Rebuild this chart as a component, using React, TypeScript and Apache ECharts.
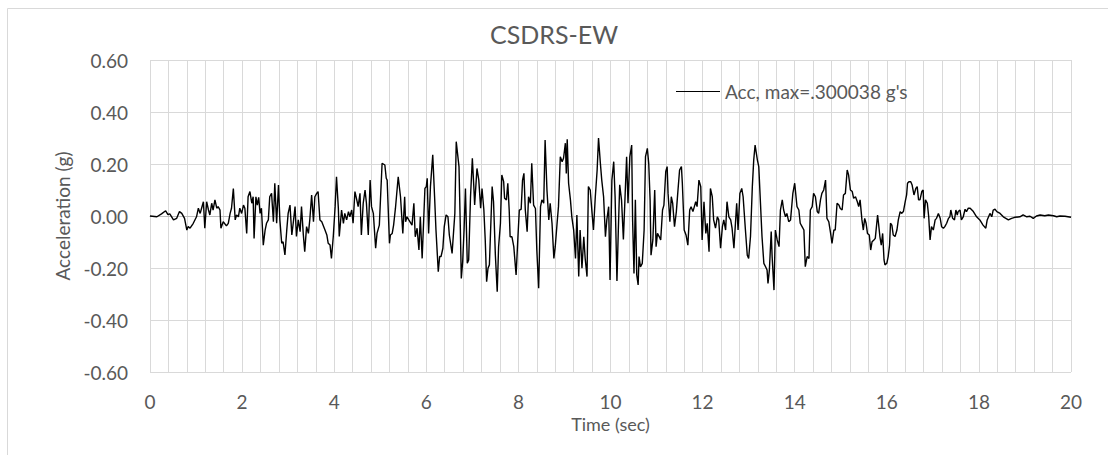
import React, { useEffect, useRef } from "react";
import * as echarts from "echarts";

const TITLE = "CSDRS-EW";
const SERIES_NAME = "Acc, max=.300038 g's";
const X_NAME = "Time (sec)";
const Y_NAME = "Acceleration (g)";

// [time (s), acceleration (g)]
const SEG_0_5: number[][] = [
  [0, 0], [0.15, -0.003], [0.25, 0.008], [0.34, 0.02], [0.39, 0.005], [0.43, 0.008],
  [0.51, -0.015], [0.58, -0.009], [0.64, 0.017], [0.69, 0.01], [0.75, -0.009], [0.8, -0.054],
  [0.83, -0.04], [0.87, -0.047], [0.94, -0.028], [1.01, -0.003], [1.05, 0.03], [1.09, 0.01],
  [1.12, 0.03], [1.16, 0.055], [1.19, -0.047], [1.23, 0.055], [1.27, 0.023], [1.3, 0.004],
  [1.34, 0.049], [1.37, 0.023], [1.41, 0.062], [1.45, 0.03], [1.48, 0.036], [1.52, 0.023],
  [1.54, -0.047], [1.59, -0.022], [1.66, -0.038], [1.7, -0.028], [1.74, 0.01], [1.77, 0.03],
  [1.81, 0.106], [1.85, -0.015], [1.88, 0.004], [1.92, -0.003], [1.95, 0.03], [1.99, 0.01],
  [2.03, 0.042], [2.06, 0.03], [2.1, -0.067], [2.13, 0.074], [2.17, 0.094], [2.21, 0.049],
  [2.24, 0.074], [2.26, -0.086], [2.3, 0.074], [2.33, 0.042], [2.36, 0.072], [2.39, 0.01],
  [2.42, 0.03], [2.46, -0.112], [2.5, -0.054], [2.53, -0.028], [2.57, -0.015], [2.6, 0.074],
  [2.64, 0.087], [2.68, -0.022], [2.71, 0.126], [2.75, -0.028], [2.79, 0.119], [2.82, -0.015],
  [2.86, -0.105], [2.89, -0.099], [2.93, -0.15], [2.97, -0.054], [3.0, 0.01], [3.04, 0.042],
  [3.08, -0.073], [3.11, -0.028], [3.15, 0.036], [3.18, -0.079], [3.22, -0.015], [3.26, -0.06],
  [3.29, 0.036], [3.33, -0.073], [3.36, -0.137], [3.4, -0.041], [3.44, -0.067], [3.47, -0.015],
  [3.51, 0.081], [3.55, -0.022], [3.58, 0.074], [3.62, 0.087], [3.65, 0.094], [3.69, -0.015],
  [3.73, -0.022], [3.8, -0.054], [3.84, -0.073], [3.87, -0.105], [3.91, -0.112], [3.94, -0.163],
  [3.98, -0.079], [4.02, 0.036], [4.05, 0.151], [4.09, 0.03], [4.11, -0.079], [4.16, 0.023],
  [4.2, -0.028], [4.23, 0.01], [4.27, -0.015], [4.31, 0.017], [4.34, -0.003], [4.38, 0.023],
  [4.41, -0.028], [4.45, 0.094], [4.49, 0.062], [4.52, 0.036], [4.56, 0.087], [4.59, -0.073],
  [4.63, 0.049], [4.67, 0.1], [4.7, 0.049], [4.74, -0.073], [4.78, 0.138], [4.81, 0.036],
  [4.85, 0.01],
];

const SEG_5_76: number[][] = [
  [4.9, -0.124], [4.93, -0.067], [4.98, -0.035], [5.04, 0.203], [5.1, 0.196], [5.13, 0.145],
  [5.15, 0.138], [5.2, -0.105], [5.22, -0.073], [5.26, -0.067], [5.29, -0.035], [5.33, 0.03],
  [5.39, 0.151], [5.44, 0.074], [5.49, -0.067], [5.53, 0.074], [5.55, -0.022], [5.58, -0.003],
  [5.62, -0.015], [5.69, -0.035], [5.73, 0.049], [5.76, -0.08], [5.8, -0.047], [5.84, -0.131],
  [5.87, -0.003], [5.91, -0.163], [5.97, 0.106], [6.0, 0.113], [6.02, 0.145], [6.05, -0.067],
  [6.09, 0.113], [6.14, 0.235], [6.18, 0.074], [6.21, -0.054], [6.26, -0.214], [6.29, -0.156],
  [6.32, -0.156], [6.36, -0.124], [6.39, -0.041], [6.43, 0.004], [6.47, -0.003], [6.5, -0.073],
  [6.56, -0.144], [6.6, -0.041], [6.62, 0.01], [6.65, 0.286], [6.71, 0.19], [6.74, -0.054],
  [6.76, -0.24], [6.79, -0.176], [6.82, -0.054], [6.85, 0.106], [6.89, -0.182], [6.92, -0.169],
  [6.96, 0.074], [7.0, 0.222], [7.03, 0.119], [7.05, 0.042], [7.1, 0.183], [7.14, 0.138],
  [7.18, 0.03], [7.21, 0.106], [7.25, 0.023], [7.28, -0.092], [7.31, -0.253], [7.34, -0.201],
  [7.37, -0.188], [7.43, 0.113], [7.46, 0.055], [7.5, -0.151], [7.54, -0.291], [7.57, -0.118],
];

const SEG_76_103: number[][] = [
  [7.61, -0.028], [7.64, 0.158], [7.68, 0.132], [7.7, 0.068], [7.74, 0.062], [7.77, 0.126],
  [7.8, 0.023], [7.82, -0.08], [7.86, -0.08], [7.9, -0.118], [7.95, -0.227], [7.99, -0.08],
  [8.02, 0.023], [8.06, 0.026], [8.09, 0.138], [8.12, 0.164], [8.15, 0.023], [8.19, -0.06],
  [8.22, 0.074], [8.26, 0.049], [8.29, 0.203], [8.33, 0.042], [8.37, 0.029], [8.4, -0.131],
  [8.44, -0.278], [8.48, 0.036], [8.51, 0.062], [8.55, 0.049], [8.58, 0.292], [8.62, 0.1],
  [8.66, -0.015], [8.69, 0.049], [8.73, -0.028], [8.77, -0.163], [8.8, -0.118], [8.84, -0.028],
  [8.87, 0.036], [8.91, 0.228], [8.95, 0.209], [8.98, 0.222], [9.02, 0.28], [9.04, 0.164],
  [9.06, 0.295], [9.09, 0.126], [9.13, 0.062], [9.16, -0.003], [9.2, -0.054], [9.24, -0.163],
  [9.27, 0.004], [9.31, -0.233], [9.34, -0.054], [9.38, -0.201], [9.42, -0.08], [9.45, -0.163],
  [9.49, -0.233], [9.52, 0.113], [9.56, 0.1], [9.6, 0.01], [9.63, -0.054], [9.67, 0.074],
  [9.71, 0.177], [9.74, 0.3], [9.78, 0.203], [9.81, 0.138], [9.85, 0.074], [9.89, -0.08],
  [9.92, -0.015], [9.96, 0.036], [9.99, -0.246], [10.03, 0.138], [10.07, 0.209], [10.1, 0.074],
  [10.14, -0.25], [10.17, -0.054], [10.2, 0.12], [10.24, 0.06], [10.28, -0.09],
];

const SEG_103_137: number[][] = [
  [10.35, 0.228], [10.38, 0.049], [10.42, 0.228], [10.46, 0.273], [10.48, -0.015], [10.51, -0.221],
  [10.54, 0.062], [10.57, -0.227], [10.6, -0.265], [10.62, -0.156], [10.65, -0.196], [10.69, -0.182],
  [10.73, -0.054], [10.76, 0.228], [10.8, 0.26], [10.83, 0.203], [10.86, 0.062], [10.88, -0.151],
  [10.92, -0.092], [10.96, 0.1], [10.99, -0.118], [11.02, -0.067], [11.06, -0.08], [11.09, -0.092],
  [11.13, 0.023], [11.16, 0.042], [11.2, 0.171], [11.23, 0.19], [11.25, 0.087], [11.29, -0.022],
  [11.32, 0.074], [11.35, 0.049], [11.39, -0.041], [11.43, 0.017], [11.46, 0.087], [11.5, 0.177],
  [11.54, 0.19], [11.56, 0.126], [11.6, -0.054], [11.64, -0.073], [11.68, -0.112], [11.72, 0.023],
  [11.75, 0.036], [11.79, 0.017], [11.83, 0.042], [11.85, 0.055], [11.88, 0.036], [11.92, 0.138],
  [11.96, 0.113], [11.99, -0.092], [12.03, 0.055], [12.07, -0.067], [12.1, -0.028], [12.14, -0.137],
  [12.17, 0.106], [12.21, 0.074], [12.24, -0.015], [12.28, -0.047], [12.32, -0.003], [12.35, -0.015],
  [12.39, -0.124], [12.43, -0.041], [12.46, -0.015], [12.5, -0.054], [12.53, 0.055], [12.57, -0.003],
  [12.61, -0.015], [12.64, -0.047], [12.68, -0.124], [12.74, 0.049], [12.77, -0.054], [12.81, 0.087],
  [12.85, 0.106], [12.88, 0.074], [12.93, -0.054], [12.97, -0.151], [13.0, -0.163], [13.04, -0.079],
  [13.08, 0.113], [13.11, 0.215], [13.14, 0.273], [13.19, 0.215], [13.22, 0.19], [13.26, 0.036],
  [13.29, -0.079], [13.33, -0.182], [13.37, -0.196], [13.4, -0.208], [13.42, -0.259], [13.45, -0.208],
  [13.49, -0.06], [13.51, -0.156], [13.55, -0.285], [13.58, -0.054], [13.62, -0.092], [13.66, -0.118],
];

const SEG_137_154: number[][] = [
  [13.69, 0.023], [13.73, 0.062], [13.76, 0.023], [13.8, -0.003], [13.83, 0.01], [13.87, -0.022],
  [13.91, -0.015], [13.96, 0.087], [14.0, 0.126], [14.05, 0.036], [14.09, 0.023], [14.12, -0.028],
  [14.16, -0.041], [14.2, -0.054], [14.23, -0.195], [14.27, -0.156], [14.31, -0.163], [14.34, 0.023],
  [14.38, 0.036], [14.41, 0.087], [14.45, 0.074], [14.49, 0.017], [14.52, 0.01], [14.56, 0.062],
  [14.59, 0.087], [14.63, 0.1], [14.67, 0.138], [14.7, -0.009], [14.74, -0.022], [14.78, -0.067],
  [14.81, -0.105], [14.85, -0.054], [14.88, -0.054], [14.92, 0.049], [14.96, 0.042], [14.99, 0.029],
  [15.03, 0.023], [15.06, 0.081], [15.1, 0.087], [15.14, 0.177], [15.17, 0.158], [15.21, 0.1],
  [15.25, 0.094], [15.28, 0.068], [15.32, 0.074], [15.36, 0.055], [15.39, 0.036],
];

const SEG_154_20: number[][] = [
  [15.42, 0.062], [15.46, -0.015], [15.49, -0.054], [15.52, -0.009], [15.55, -0.028], [15.58, -0.067],
  [15.62, -0.073], [15.65, -0.131], [15.68, -0.099], [15.72, -0.092], [15.75, -0.086], [15.8, 0.004],
  [15.82, -0.028], [15.85, -0.079], [15.88, -0.112], [15.91, -0.067], [15.94, -0.169], [15.96, -0.188],
  [16.0, -0.182], [16.03, -0.156], [16.06, -0.112], [16.08, -0.028], [16.11, -0.035], [16.14, -0.073],
  [16.18, -0.079], [16.22, -0.054], [16.25, -0.015], [16.29, 0.017], [16.32, 0.01], [16.36, 0.017],
  [16.4, 0.055], [16.43, 0.081], [16.45, 0.126], [16.48, 0.132], [16.52, 0.132], [16.55, 0.119],
  [16.59, 0.081], [16.63, 0.106], [16.66, 0.113], [16.69, 0.062], [16.72, 0.062], [16.76, 0.094],
  [16.79, 0.1], [16.81, -0.009], [16.84, 0.062], [16.88, 0.049], [16.91, -0.003], [16.94, -0.092],
  [16.97, -0.041], [17.01, -0.054], [17.05, -0.015], [17.08, -0.009], [17.12, 0.01], [17.16, -0.009],
  [17.19, -0.041], [17.23, -0.047], [17.26, -0.041], [17.3, -0.028], [17.34, -0.009], [17.37, -0.003],
  [17.39, 0.023], [17.43, -0.009], [17.47, -0.015], [17.5, 0.023], [17.53, 0.004], [17.55, 0.017],
  [17.59, 0.023], [17.62, -0.015], [17.66, -0.003], [17.7, 0.026], [17.73, 0.017], [17.77, 0.03],
  [17.81, 0.03], [17.88, 0.017], [17.95, -0.003], [18.02, -0.015], [18.09, -0.035], [18.15, -0.047],
  [18.18, -0.015], [18.24, 0.01], [18.28, -0.003], [18.31, 0.023], [18.35, 0.026], [18.39, 0.017],
  [18.46, 0.01], [18.53, -0.003], [18.64, -0.015], [18.71, -0.009], [18.78, -0.005], [18.89, -0.003],
  [18.96, 0.004], [19.04, -0.003], [19.11, -0.001], [19.18, -0.009], [19.25, 0.0], [19.33, 0.004],
  [19.43, 0.001], [19.51, 0.004], [19.62, 0.001], [19.69, -0.003], [19.76, 0.0], [19.87, -0.001],
  [20.0, -0.005],
];

const X_MIN = 0;
const X_MAX = 20;
const X_GRID_STEP = 0.4;
const X_LABEL_STEP = 2;
const Y_MIN = -0.6;
const Y_MAX = 0.6;
const Y_STEP = 0.2;

const FONT = "Lato, 'Open Sans', sans-serif";
const TEXT_COLOR = "#595959";

export default function App() {
  const ref = useRef<HTMLDivElement>(null);

  useEffect(() => {
    if (!ref.current) return;
    const chart = echarts.init(ref.current, undefined, { renderer: "svg" });
    const data = [
      ...SEG_0_5,
      ...SEG_5_76,
      ...SEG_76_103,
      ...SEG_103_137,
      ...SEG_137_154,
      ...SEG_154_20,
    ];
    chart.setOption({
      animation: false,
      backgroundColor: "#ffffff",
      textStyle: { fontFamily: FONT },
      title: {
        text: TITLE,
        left: "center",
        top: 21,
        padding: 0,
        textStyle: { fontFamily: FONT, fontSize: 25, fontWeight: "normal", color: TEXT_COLOR },
      },
      legend: {
        left: 676,
        top: 82,
        padding: 0,
        itemWidth: 44,
        itemHeight: 14,
        itemGap: 5,
        textStyle: { fontFamily: FONT, fontSize: 19, color: TEXT_COLOR, padding: [0, 0, 0, 0] },
        data: [{ name: SERIES_NAME, icon: "path://M0,0 L44,0 L44,1 L0,1 Z" }],
        itemStyle: { color: "#000000" },
      },
      grid: { left: 150, right: 37, top: 60, bottom: 83, containLabel: false },
      xAxis: {
        type: "value",
        min: X_MIN,
        max: X_MAX,
        interval: X_GRID_STEP,
        name: X_NAME,
        nameLocation: "middle",
        nameGap: 43,
        nameMoveOverlap: false,
        nameTextStyle: { fontFamily: FONT, fontSize: 18, color: TEXT_COLOR, lineHeight: 18 },
        axisLine: { show: true, lineStyle: { color: "#bfbfbf", width: 1 } },
        axisTick: { show: false },
        axisLabel: {
          margin: 20,
          fontFamily: FONT,
          fontSize: 19,
          lineHeight: 19,
          color: TEXT_COLOR,
          showMinLabel: true,
          showMaxLabel: true,
          formatter: (v: number) => {
            const k = v / X_LABEL_STEP;
            return Math.abs(k - Math.round(k)) < 1e-6 ? String(Math.round(v)) : "";
          },
        },
        splitLine: { show: true, lineStyle: { color: "#d9d9d9", width: 1 } },
      },
      yAxis: {
        type: "value",
        min: Y_MIN,
        max: Y_MAX,
        interval: Y_STEP,
        name: Y_NAME,
        nameLocation: "middle",
        nameGap: 78,
        nameMoveOverlap: false,
        nameTextStyle: { fontFamily: FONT, fontSize: 19, color: TEXT_COLOR },
        axisLine: { show: false },
        axisTick: { show: false },
        axisLabel: {
          margin: 22,
          fontFamily: FONT,
          fontSize: 19,
          color: TEXT_COLOR,
          formatter: (v: number) => v.toFixed(2),
        },
        splitLine: { show: true, lineStyle: { color: "#d9d9d9", width: 1 } },
      },
      graphic: [
        {
          type: "rect",
          left: 5,
          top: 6,
          shape: { x: 0, y: 0, width: 1120, height: 470 },
          style: { fill: "none", stroke: "#d9d9d9", lineWidth: 1 },
          silent: true,
        },
      ],
      series: [
        {
          name: SERIES_NAME,
          type: "line",
          data,
          showSymbol: false,
          symbol: "none",
          lineStyle: { color: "#000000", width: 1.4 },
          itemStyle: { color: "#000000" },
        },
      ],
    });
    return () => chart.dispose();
  }, []);

  return (
    <div
      ref={ref}
      style={{ position: "fixed", left: 0, top: 0, width: 1108, height: 455, background: "#fff" }}
    />
  );
}
